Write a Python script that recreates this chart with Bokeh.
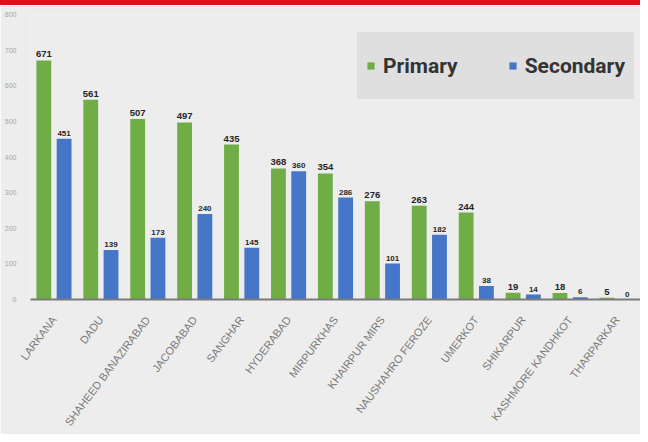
import math
from bokeh.plotting import figure
from bokeh.models import (FactorRange, ColumnDataSource, Legend, LegendItem, Div,
                          Range1d, FixedTicker)
from bokeh.transform import dodge
from bokeh.layouts import column
from bokeh.embed import file_html
from bokeh.resources import INLINE
from bokeh.core.properties import value

# ---- data ----
districts = ["LARKANA", "DADU", "SHAHEED BANAZIRABAD", "JACOBABAD", "SANGHAR",
             "HYDERABAD", "MIRPURKHAS", "KHAIRPUR MIRS", "NAUSHAHRO FEROZE",
             "UMERKOT", "SHIKARPUR", "KASHMORE KANDHKOT", "THARPARKAR"]
primary = [671, 561, 507, 497, 435, 368, 354, 276, 263, 244, 19, 18, 5]
secondary = [451, 139, 173, 240, 145, 360, 286, 101, 182, 38, 14, 6, 0]
y_ticks = [0, 100, 200, 300, 400, 500, 600, 700, 800]

GREEN = "#70ad47"
BLUE = "#4676c8"
BG = "#ededed"

src = ColumnDataSource(dict(
    district=districts,
    primary=primary,
    secondary=secondary,
    primary_label=[str(v) for v in primary],
    secondary_label=[str(v) for v in secondary],
))

p = figure(width=640, height=429, output_backend="svg", toolbar_location=None,
           x_range=FactorRange(*districts, range_padding=0),
           y_range=Range1d(0, 800),
           min_border_left=30, min_border_right=0, min_border_top=9,
           min_border_bottom=134)
p.background_fill_color = BG
p.border_fill_color = BG
p.outline_line_color = None
p.xgrid.grid_line_color = None
p.ygrid.grid_line_color = None

off = 0.216
w = 0.316
r1 = p.vbar(x=dodge("district", -off, range=p.x_range), top="primary", width=w,
            source=src, fill_color=GREEN, line_color=None)
r2 = p.vbar(x=dodge("district", off, range=p.x_range), top="secondary", width=w,
            source=src, fill_color=BLUE, line_color=None)

p.text(x=dodge("district", -off, range=p.x_range), y="primary", text="primary_label",
       source=src, text_align="center", text_baseline="bottom", y_offset=-3,
       text_font=value("Liberation Sans"), text_font_style="bold",
       text_font_size="9.5px", text_color="#262626")
p.text(x=dodge("district", off, range=p.x_range), y="secondary", text="secondary_label",
       source=src, text_align="center", text_baseline="bottom", y_offset=-3,
       text_font=value("Liberation Sans"), text_font_style="bold",
       text_font_size="8px", text_color="#262626")

# axes
p.yaxis.ticker = FixedTicker(ticks=y_ticks)
p.yaxis.axis_line_color = None
p.yaxis.major_tick_line_color = None
p.yaxis.minor_tick_line_color = None
p.yaxis.major_label_text_font_size = "7px"
p.yaxis.major_label_text_color = "#a6a6a6"
p.yaxis.major_label_standoff = 8

p.xaxis.axis_line_color = "#7a7a7a"
p.xaxis.axis_line_width = 2
p.xaxis.major_tick_line_color = None
p.xaxis.minor_tick_line_color = None
p.xaxis.major_label_orientation = math.radians(53)
p.xaxis.major_label_text_font = "Liberation Sans"
p.xaxis.major_label_text_font_size = "11px"
p.xaxis.major_label_text_color = "#7a7a7a"
p.xaxis.major_label_standoff = 12

legend = Legend(items=[LegendItem(label="Primary", renderers=[r1]),
                       LegendItem(label="Secondary", renderers=[r2])],
                orientation="horizontal", location=(327, 200),
                background_fill_color="#dfdfdf", background_fill_alpha=1,
                border_line_color="#dfdfdf", border_line_width=1,
                padding=8, spacing=50, margin=0,
                glyph_width=9, glyph_height=9, label_standoff=8, label_height=49,
                label_text_font="Roboto", label_text_font_style="bold",
                label_text_font_size="21px", label_text_color="#333333")
p.add_layout(legend)

band = Div(width=640, height=5, margin=0,
           styles={"background-color": "#e0101a", "width": "640px", "height": "5px"})
layout = column(band, p, spacing=0)

open("out.html", "w").write(file_html(layout, INLINE))
